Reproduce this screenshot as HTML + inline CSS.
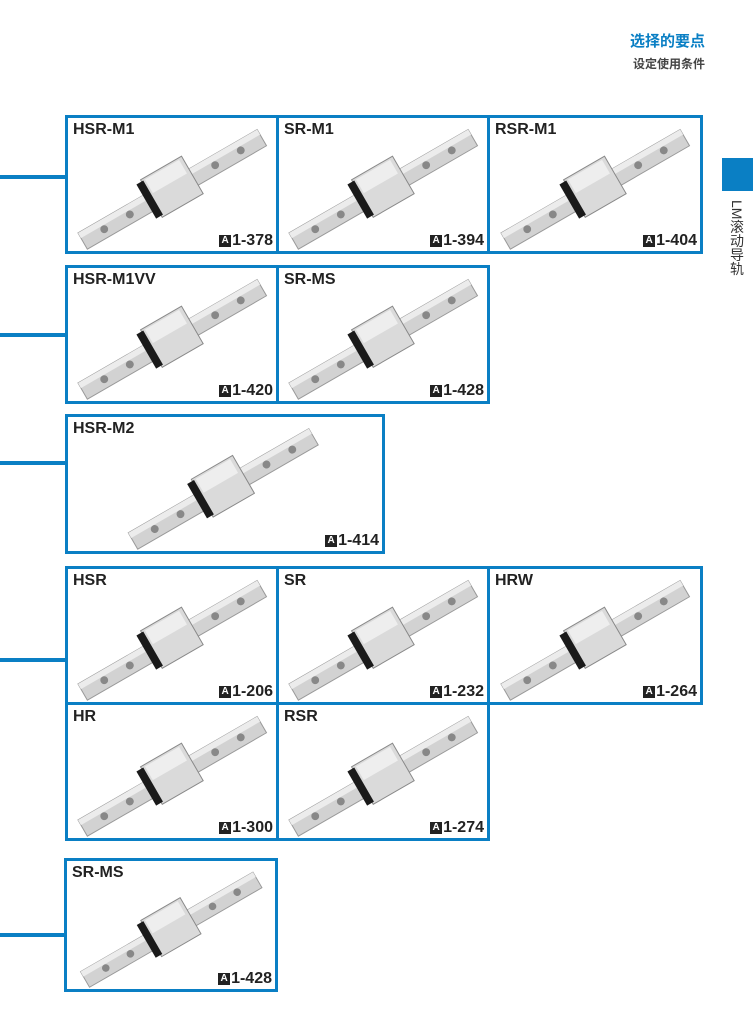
<!DOCTYPE html>
<html><head><meta charset="utf-8"><style>
body{margin:0;width:753px;height:1019px;background:#fff;position:relative;overflow:hidden;font-family:"Liberation Sans","Noto Sans CJK SC",sans-serif}
.b{position:absolute;border:3px solid #0a7fc4;box-sizing:border-box;background:#fff}
.t{position:absolute;left:5px;top:3px;font-weight:bold;font-size:16px;color:#222}
.r{position:absolute;right:3px;bottom:1px;font-weight:bold;font-size:16px;color:#222;display:flex;align-items:center}
.r i{display:inline-block;width:12px;height:12px;background:#222;color:#fff;font-style:normal;font-size:10px;line-height:12px;text-align:center;margin-right:1px}
.c{position:absolute;left:0;height:4px;background:#0a7fc4}
.b svg{position:absolute;left:0;top:0}
</style></head><body>
<svg width="0" height="0" style="position:absolute"><defs>
<symbol id="rail" viewBox="0 0 210 135">
<g transform="rotate(-30 105 72)">
<rect x="0" y="63" width="210" height="19" fill="#d2d2d2" stroke="#999"/>
<rect x="0" y="63" width="210" height="6" fill="#ececec"/>
<circle cx="25" cy="73" r="4" fill="#888"/><circle cx="55" cy="73" r="4" fill="#888"/><circle cx="155" cy="73" r="4" fill="#888"/><circle cx="185" cy="73" r="4" fill="#888"/>
<rect x="82" y="48" width="48" height="44" fill="#dadada" stroke="#888"/>
<rect x="86" y="50" width="40" height="16" fill="#eeeeee"/>
<rect x="76" y="50" width="8" height="40" fill="#1a1a1a"/>
</g></symbol></defs></svg>

<div style="position:absolute;right:48px;top:30px;font-weight:bold;font-size:15px;color:#0a7fc4">选择的要点</div>
<div style="position:absolute;right:48px;top:55px;font-weight:bold;font-size:12px;color:#444">设定使用条件</div>
<div style="position:absolute;left:722px;top:158px;width:31px;height:33px;background:#0a7fc4"></div>
<div style="position:absolute;left:727px;top:200px;writing-mode:vertical-rl;font-size:14px;color:#333">LM滚动导轨</div>

<div class="c" style="top:175px;width:66px"></div>
<div class="c" style="top:333px;width:66px"></div>
<div class="c" style="top:461px;width:66px"></div>
<div class="c" style="top:658px;width:66px"></div>
<div class="c" style="top:933px;width:66px"></div>

<div class="b" style="left:65px;top:115px;width:214px;height:139px"><svg width="208" height="133"><use href="#rail"/></svg><div class="t">HSR-M1</div><div class="r"><i>A</i>1-378</div></div>
<div class="b" style="left:276px;top:115px;width:214px;height:139px"><svg width="208" height="133"><use href="#rail"/></svg><div class="t">SR-M1</div><div class="r"><i>A</i>1-394</div></div>
<div class="b" style="left:487px;top:115px;width:216px;height:139px"><svg width="210" height="133"><use href="#rail"/></svg><div class="t">RSR-M1</div><div class="r"><i>A</i>1-404</div></div>

<div class="b" style="left:65px;top:265px;width:214px;height:139px"><svg width="208" height="133"><use href="#rail"/></svg><div class="t">HSR-M1VV</div><div class="r"><i>A</i>1-420</div></div>
<div class="b" style="left:276px;top:265px;width:214px;height:139px"><svg width="208" height="133"><use href="#rail"/></svg><div class="t">SR-MS</div><div class="r"><i>A</i>1-428</div></div>

<div class="b" style="left:65px;top:414px;width:320px;height:140px"><svg width="314" height="134" viewBox="-50 0 314 134" preserveAspectRatio="none"><use href="#rail" width="210" height="134"/></svg><div class="t">HSR-M2</div><div class="r"><i>A</i>1-414</div></div>

<div class="b" style="left:65px;top:566px;width:214px;height:139px"><svg width="208" height="133"><use href="#rail"/></svg><div class="t">HSR</div><div class="r"><i>A</i>1-206</div></div>
<div class="b" style="left:276px;top:566px;width:214px;height:139px"><svg width="208" height="133"><use href="#rail"/></svg><div class="t">SR</div><div class="r"><i>A</i>1-232</div></div>
<div class="b" style="left:487px;top:566px;width:216px;height:139px"><svg width="210" height="133"><use href="#rail"/></svg><div class="t">HRW</div><div class="r"><i>A</i>1-264</div></div>

<div class="b" style="left:65px;top:702px;width:214px;height:139px"><svg width="208" height="133"><use href="#rail"/></svg><div class="t">HR</div><div class="r"><i>A</i>1-300</div></div>
<div class="b" style="left:276px;top:702px;width:214px;height:139px"><svg width="208" height="133"><use href="#rail"/></svg><div class="t">RSR</div><div class="r"><i>A</i>1-274</div></div>

<div class="b" style="left:64px;top:858px;width:214px;height:134px"><svg width="208" height="128"><use href="#rail"/></svg><div class="t">SR-MS</div><div class="r"><i>A</i>1-428</div></div>
</body></html>
